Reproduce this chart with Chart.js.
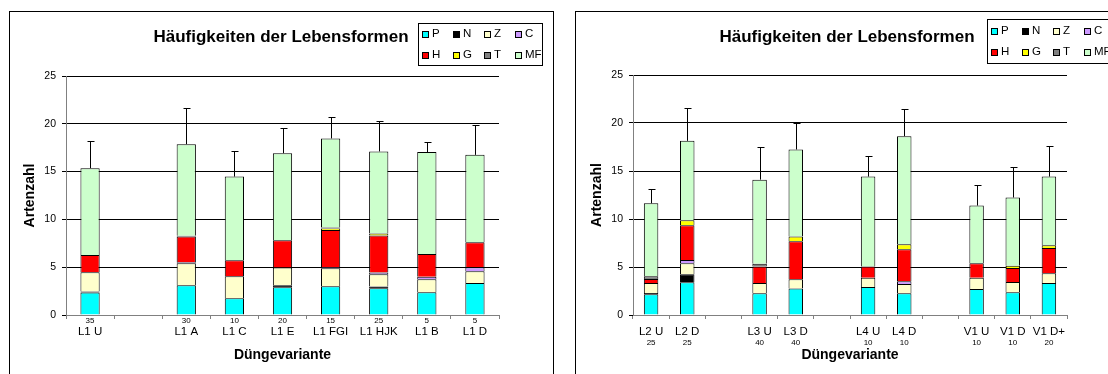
<!DOCTYPE html>
<html lang="de">
<head>
<meta charset="utf-8">
<title>Häufigkeiten der Lebensformen</title>
<script src="https://cdn.jsdelivr.net/npm/chart.js@4.4.1/dist/chart.umd.min.js"></script>
<style>
  html, body { margin: 0; padding: 0; background: #fff; }
  body { width: 1108px; height: 374px; position: relative; overflow: hidden; }
  .frame { position: absolute; width: 545px; height: 380px; border: 1px solid #000; box-sizing: border-box; pointer-events: none; }
  .wrap { position: absolute; width: 545px; height: 363px; }
  canvas { display: block; }
</style>
</head>
<body>
<div class="wrap" style="left:9px;top:11px"><canvas id="chartL1" width="545" height="363" style="width:545px;height:363px"></canvas></div>
<div class="frame" style="left:9px;top:11px"></div>
<div class="wrap" style="left:575px;top:11px"><canvas id="chartL2" width="545" height="363" style="width:545px;height:363px"></canvas></div>
<div class="frame" style="left:575px;top:11px"></div>
<script>
// Life-form groups (stacking order bottom to top)
const seriesNames = ['P', 'N', 'Z', 'C', 'H', 'G', 'T', 'MF'];
const seriesColors = ['#00FFFF', '#000000', '#FFFFCC', '#CC99FF', '#FF0000', '#FFFF00', '#808080', '#CCFFCC'];

const titleText = 'Häufigkeiten der Lebensformen';
const yAxisTitle = 'Artenzahl';
const xAxisTitle = 'Düngevariante';
const yTicks = [0, 5, 10, 15, 20, 25];

// ---- Site L1 ----
const categoriesA = ['L1 U', '', 'L1 A', 'L1 C', 'L1 E', 'L1 FGI', 'L1 HJK', 'L1 B', 'L1 D'];
const plotsA = ['35', '', '30', '10', '20', '15', '25', '5', '5'];
const pA  = [2.35, null, 3.11, 1.75, 2.90, 3.00, 2.79, 2.37, 3.35];
const nA  = [0.10, null, 0, 0, 0.20, 0, 0.20, 0, 0];
const zA  = [2.02, null, 2.30, 2.30, 1.86, 1.89, 1.26, 1.36, 1.22];
const cA  = [0, null, 0.10, 0, 0, 0.10, 0.20, 0.28, 0.42];
const hA  = [1.81, null, 2.69, 1.67, 2.86, 3.90, 3.87, 2.38, 2.62];
const gA  = [0, null, 0, 0, 0, 0.15, 0.20, 0, 0];
const tA  = [0, null, 0.10, 0, 0, 0.10, 0, 0, 0];
const mfA = [9.08, null, 9.57, 8.76, 9.11, 9.33, 8.59, 10.65, 9.14];
const sdA = [2.79, null, 3.83, 2.72, 2.67, 2.27, 3.21, 1.01, 3.15];

// ---- Sites L2, L3, L4, V1 ----
const categoriesB = ['L2 U', 'L2 D', '', 'L3 U', 'L3 D', '', 'L4 U', 'L4 D', '', 'V1 U', 'V1 D', 'V1 D+'];
const plotsB = ['25', '25', '', '40', '40', '', '10', '10', '', '10', '10', '20'];
const pB  = [2.15, 3.41, null, 2.26, 2.75, null, 2.92, 2.26, null, 2.71, 2.36, 3.34];
const nB  = [0.14, 0.83, null, 0, 0, null, 0, 0, null, 0, 0, 0];
const zB  = [1.05, 1.15, null, 1.08, 0.97, null, 0.97, 0.97, null, 1.18, 1.08, 1.00];
const cB  = [0, 0.35, null, 0, 0, null, 0, 0.28, null, 0, 0, 0];
const hB  = [0.41, 3.61, null, 1.70, 3.96, null, 1.15, 3.34, null, 1.50, 1.46, 2.65];
const gB  = [0, 0.52, null, 0, 0.49, null, 0, 0.52, null, 0, 0.24, 0.27];
const tB  = [0.28, 0, null, 0.30, 0, null, 0, 0, null, 0, 0, 0];
const mfB = [7.61, 8.27, null, 8.76, 9.07, null, 9.38, 11.26, null, 6.01, 7.10, 7.16];
const sdB = [1.50, 3.46, null, 3.40, 2.76, null, 2.16, 2.78, null, 2.19, 3.22, 3.23];

const FONT = "'Liberation Sans', Arial, Helvetica, sans-serif";

// Error bars, title, boxed legend, two-line category labels and axis titles
const decorations = {
  id: 'decorations',
  afterDatasetsDraw(chart, args, o) {
    const ctx = chart.ctx, xs = chart.scales.x, ys = chart.scales.y;
    ctx.save();
    ctx.strokeStyle = '#000';
    ctx.lineWidth = 1;
    o.sd.forEach((e, i) => {
      if (e == null) return;
      let total = 0;
      chart.data.datasets.forEach(ds => { total += ds.data[i] || 0; });
      const x = Math.round(xs.getPixelForValue(i)) + 0.5;
      const y0 = ys.getPixelForValue(total);
      const y1 = Math.round(ys.getPixelForValue(total + e)) + 0.5;
      ctx.beginPath();
      ctx.moveTo(x, y0);
      ctx.lineTo(x, y1);
      ctx.moveTo(x - 3, y1);
      ctx.lineTo(x + 4, y1);
      ctx.stroke();
    });
    ctx.restore();
  },
  afterDraw(chart, args, o) {
    const ctx = chart.ctx, xs = chart.scales.x, area = chart.chartArea;
    ctx.save();
    ctx.fillStyle = '#000';
    ctx.textBaseline = 'middle';

    // title
    ctx.font = 'bold 17px ' + FONT;
    ctx.textAlign = 'center';
    ctx.fillText(titleText, o.titleX, o.titleY);

    // axis titles
    ctx.font = 'bold 14px ' + FONT;
    ctx.fillText(xAxisTitle, (area.left + area.right) / 2, o.xTitleY);
    ctx.save();
    ctx.translate(o.yTitleX, (area.top + area.bottom) / 2);
    ctx.rotate(-Math.PI / 2);
    ctx.fillText(yAxisTitle, 0, 0);
    ctx.restore();

    // category labels with number of plots
    o.categories.forEach((name, i) => {
      if (!name) return;
      const x = xs.getPixelForValue(i);
      ctx.font = '11.5px ' + FONT;
      ctx.fillText(name, x, o.nameY);
      ctx.font = '8px ' + FONT;
      ctx.fillText(o.plots[i], x, o.plotY);
    });

    // legend box
    const L = o.legend;
    ctx.strokeStyle = '#000';
    ctx.lineWidth = 1;
    ctx.fillStyle = '#fff';
    ctx.fillRect(L.x, L.y, L.w, L.h);
    ctx.strokeRect(L.x + 0.5, L.y + 0.5, L.w, L.h);
    ctx.font = '11.5px ' + FONT;
    ctx.textAlign = 'left';
    chart.data.datasets.forEach((ds, k) => {
      const col = k % 4, row = Math.floor(k / 4);
      const sx = Math.round(L.x + L.col0 + col * L.colStep);
      const cy = L.y + L.row0 + row * L.rowStep;
      const sy = Math.round(cy - 3);
      ctx.fillStyle = ds.backgroundColor;
      ctx.fillRect(sx, sy, 6, 6);
      ctx.strokeRect(sx + 0.5, sy + 0.5, 6, 6);
      ctx.fillStyle = '#000';
      ctx.fillText(ds.label, sx + 10, cy);
    });
    ctx.restore();
  }
};

function buildChart(id, categories, plots, series, sd, layout) {
  const datasets = series.map((data, k) => ({
    label: seriesNames[k],
    data: data,
    backgroundColor: seriesColors[k],
    borderColor: '#000',
    borderWidth: 1,
    stack: 'all',
    categoryPercentage: 1,
    barPercentage: 0.4
  }));
  return new Chart(document.getElementById(id), {
    type: 'bar',
    data: { labels: categories, datasets: datasets },
    plugins: [decorations],
    options: {
      responsive: false,
      animation: false,
      devicePixelRatio: 1,
      layout: { padding: { top: layout.top, right: layout.right, left: 0, bottom: 0 } },
      scales: {
        x: {
          stacked: true,
          afterFit(scale) { scale.height = layout.xHeight; },
          ticks: { display: false },
          grid: { offset: true, drawOnChartArea: false, drawTicks: true, tickLength: 4, color: '#808080' },
          border: { color: '#808080', width: 1 }
        },
        y: {
          stacked: true,
          min: 0,
          max: 25,
          afterFit(scale) { scale.width = layout.yWidth; },
          afterBuildTicks(scale) { scale.ticks = yTicks.map(v => ({ value: v })); },
          ticks: { font: { family: FONT, size: 10.5 }, color: '#000', padding: 6 },
          grid: { color: '#000', lineWidth: 1, tickLength: 4 },
          border: { color: '#808080', width: 1 }
        }
      },
      plugins: {
        legend: { display: false },
        title: { display: false },
        tooltip: { enabled: false },
        decorations: Object.assign({ categories, plots, sd }, layout.deco)
      }
    }
  });
}

buildChart('chartL1', categoriesA, plotsA, [pA, nA, zA, cA, hA, gA, tA, mfA], sdA, {
  top: 65, right: 55, xHeight: 59, yWidth: 57,
  deco: {
    titleX: 272, titleY: 26, xTitleY: 344, yTitleX: 21,
    nameY: 321, plotY: 310,
    legend: { x: 409, y: 12, w: 124, h: 42, col0: 3.5, colStep: 31, row0: 10.5, rowStep: 21 }
  }
});

buildChart('chartL2', categoriesB, plotsB, [pB, nB, zB, cB, hB, gB, tB, mfB], sdB, {
  top: 64, right: 53, xHeight: 59, yWidth: 58,
  deco: {
    titleX: 272, titleY: 26, xTitleY: 344, yTitleX: 22,
    nameY: 320.5, plotY: 331.5,
    legend: { x: 412, y: 8, w: 124, h: 44, col0: 3.5, colStep: 31, row0: 12, rowStep: 21 }
  }
});
</script>
</body>
</html>
